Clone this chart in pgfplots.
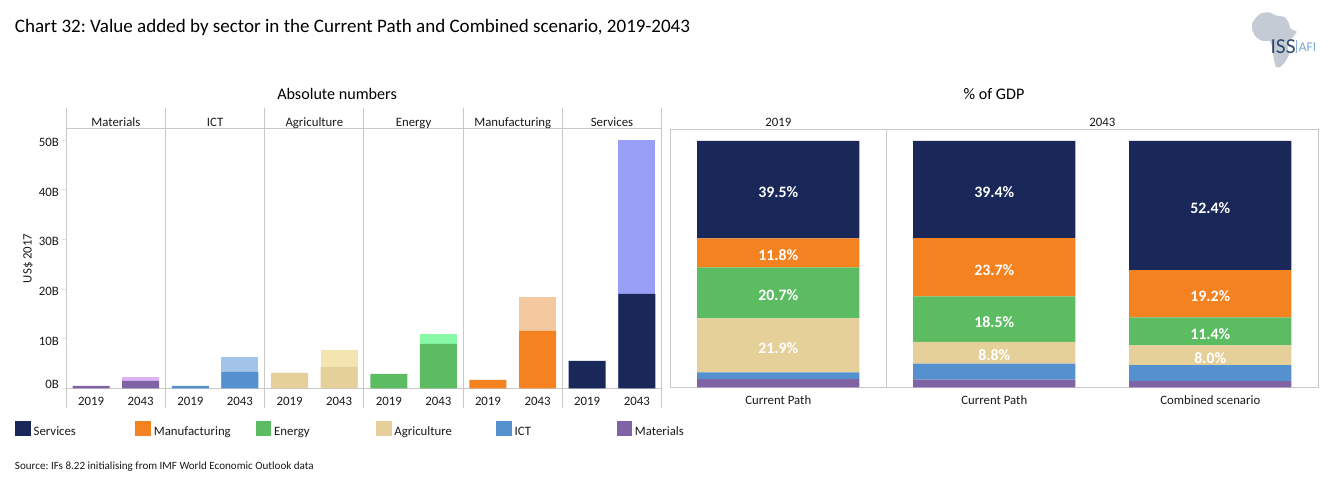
\documentclass[border=0pt]{standalone}
\usepackage{fontspec}
\setmainfont{Carlito}
\usepackage{pgfplots}
\usepackage{pgfplotstable}
\pgfplotsset{compat=1.18}

\definecolor{services}{HTML}{1A2859}
\definecolor{servicesL}{HTML}{989FF7}
\definecolor{manuf}{HTML}{F58220}
\definecolor{manufL}{HTML}{F5C9A0}
\definecolor{energy}{HTML}{5CBC62}
\definecolor{energyL}{HTML}{87F9A6}
\definecolor{agri}{HTML}{E6D09A}
\definecolor{agriL}{HTML}{F4E5B0}
\definecolor{ict}{HTML}{5590CF}
\definecolor{ictL}{HTML}{A2C4E8}
\definecolor{mater}{HTML}{8063A4}
\definecolor{materL}{HTML}{D9B4F0}
\definecolor{rule}{HTML}{C8C8C8}
\definecolor{faint}{HTML}{E6E6E6}
\definecolor{ink}{HTML}{1A1A1A}
\definecolor{logogrey}{HTML}{C4CBD4}
\definecolor{logoblue}{HTML}{2C4A6E}

\pgfplotstableread{
x   materials ict agri energy manuf services
0.5 3.3       2.8 21.9 20.7   11.8  39.5
1.5 3.1       6.5 8.8  18.5   23.7  39.4
2.5 2.5       6.5 8.0  11.4   19.2  52.4
}\shares

\tikzset{head/.style={font=\fontsize{9.6}{11}\selectfont,text=ink,inner sep=0pt,anchor=base}}

\pgfplotsset{
  panel/.style={
    scale only axis,
    axis line style={rule,line width=0.8pt},
    clip=false,
    tick align=outside,
    major tick length=0pt,
    minor tick length=2.6pt,
    every minor tick/.style={faint,line width=0.6pt},
    xticklabel style={font=\fontsize{9.6}{11}\selectfont,text=ink},
    yticklabel style={font=\fontsize{9.6}{11}\selectfont,text=ink},
  },
  sw/.style={
    legend image code/.code={
      \fill[##1] (0pt,-1.6pt) rectangle (11pt,8.7pt);
    },
  },
  seg/.style={ybar stacked,fill=#1,draw=none,forget plot,bar width=121.7pt},
  % stacked bars already put these nodes mid-segment
  lab/.style={
    visualization depends on={\thisrow{#1} \as \rawy},
    nodes near coords={\pgfmathprintnumber[fixed,fixed zerofill,precision=1,assume math mode=true]{\rawy}\%},
    every node near coord/.append style={
      anchor=center,yshift=-2pt,text=white,
      font=\fontsize{11.9}{14}\selectfont\bfseries,
    },
  },
  abs/.style={ybar,fill=#1,draw=none,forget plot,bar width=27.75pt,bar shift=0pt},
}

\begin{document}
\frenchspacing
\begin{tikzpicture}
\path[use as bounding box,fill=white] (0,0) rectangle (997.5pt,364.5pt);

% titles and source
\node[anchor=west,text=black,font=\fontsize{14.28}{17}\selectfont,inner sep=0pt] at (11pt,344pt)
  {Chart 32: Value added by sector in the Current Path and Combined scenario, 2019-2043};
\node[anchor=west,text=ink,font=\fontsize{8.3}{10}\selectfont,inner sep=0pt] at (11pt,14.8pt)
  {Source: IFs 8.22 initialising from IMF World Economic Outlook data};
\node[text=black,font=\fontsize{12.1}{14}\selectfont,inner sep=0pt] at (252.8pt,293.8pt) {Absolute numbers};
\node[text=black,font=\fontsize{12.1}{14}\selectfont,inner sep=0pt] at (745.5pt,293.8pt) {\% of GDP};

% absolute numbers
\begin{axis}[panel,
  name=left,
  at={(49.725pt,73.275pt)},anchor=south west,
  width=446.475pt,height=195pt,
  xmin=0,xmax=12,ymin=0,ymax=52.36,
  axis y line*=left,
  axis x line*=bottom,
  xtick={0.5,1.5,2.5,3.5,4.5,5.5,6.5,7.5,8.5,9.5,10.5,11.5},
  xticklabels={2019,2043,2019,2043,2019,2043,2019,2043,2019,2043,2019,2043},
  xticklabel style={yshift=0.4pt},
  minor xtick={1,3,5,7,9,11},
  ytick={10,20,30,40,50},
  yticklabels={10B,20B,30B,40B,50B},
  yticklabel style={yshift=-1.9pt,xshift=1.5pt},
  major tick length=3.6pt,
  xtick style={draw=none},
  ytick style={faint,line width=0.6pt},
  extra y ticks={0},
  extra y tick labels={0B},
  extra y tick style={yticklabel style={yshift=5pt}},
  ylabel={US\$ 2017},
  ylabel style={font=\fontsize{9.6}{11}\selectfont,text=ink,at={(axis description cs:0,0.5)},anchor=center,yshift=28.5pt},
  legend columns=6,
  legend cell align=left,
  legend style={
    draw=none,fill=none,inner sep=0pt,
    at={(axis cs:0,0)},anchor=north west,
    xshift=-38.5pt,yshift=-24.2pt,
    nodes={inner sep=0pt,text width=76.4pt,text height=6.5pt,text depth=2pt,align=left,font=\fontsize{9.6}{11}\selectfont,text=ink},
    /tikz/every odd column/.style={column sep=2.4pt},
  },
]
% Combined scenario behind, Current Path in front
\addplot[abs=materL] coordinates {(1.5,2.28)};
\addplot[abs=mater] coordinates {(0.5,0.47) (1.5,1.48)};
\addplot[abs=ictL] coordinates {(3.5,6.31)};
\addplot[abs=ict] coordinates {(2.5,0.47) (3.5,3.29)};
\addplot[abs=agriL] coordinates {(5.5,7.72)};
\addplot[abs=agri] coordinates {(4.5,3.09) (5.5,4.30)};
\addplot[abs=energyL] coordinates {(7.5,10.94)};
\addplot[abs=energy] coordinates {(6.5,2.89) (7.5,8.93)};
\addplot[abs=manufL] coordinates {(9.5,18.39)};
\addplot[abs=manuf] coordinates {(8.5,1.68) (9.5,11.55)};
\addplot[abs=servicesL] coordinates {(11.5,50.0)};
\addplot[abs=services] coordinates {(10.5,5.50) (11.5,19.00)};

\addlegendimage{sw,services}\addlegendentry{Services}
\addlegendimage{sw,manuf}\addlegendentry{Manufacturing}
\addlegendimage{sw,energy}\addlegendentry{Energy}
\addlegendimage{sw,agri}\addlegendentry{Agriculture}
\addlegendimage{sw,ict}\addlegendentry{ICT}
\addlegendimage{sw,mater}\addlegendentry{Materials}

% panel frame and headers
\draw[rule,line width=0.8pt] (rel axis cs:0,1) -- (rel axis cs:1,1);
\pgfplotsinvokeforeach{0,2,4,6,8,10,12}{
  \draw[rule,line width=0.8pt] (axis cs:#1,0) ++(0,-15pt) -- (axis cs:#1,52.36) -- ++(0,15pt);
}
\node[head] at (axis cs:1,52.36) [yshift=1.6pt] {Materials};
\node[head] at (axis cs:3,52.36) [yshift=1.6pt] {ICT};
\node[head] at (axis cs:5,52.36) [yshift=1.6pt] {Agriculture};
\node[head] at (axis cs:7,52.36) [yshift=1.6pt] {Energy};
\node[head] at (axis cs:9,52.36) [yshift=1.6pt] {Manufacturing};
\node[head] at (axis cs:11,52.36) [yshift=1.6pt] {Services};
\end{axis}

% percent of GDP
\begin{axis}[panel,
  name=right,
  at={(502.725pt,74.025pt)},anchor=south west,
  width=486pt,height=193.5pt,
  xmin=0,xmax=3,ymin=0,ymax=104.75,
  ybar stacked,
  xtick={0.5,1.5,2.5},
  xticklabels={Current Path,Current Path,Combined scenario},
  xticklabel style={yshift=-2.8pt},
  minor xtick={0,1,2,3},
  ytick=\empty,
  xtick style={draw=none},
]
\addplot[seg=mater] table[x=x,y=materials] {\shares};
\addplot[seg=ict] table[x=x,y=ict] {\shares};
\addplot[seg=agri,lab=agri] table[x=x,y=agri] {\shares};
\addplot[seg=energy,lab=energy] table[x=x,y=energy] {\shares};
\addplot[seg=manuf,lab=manuf] table[x=x,y=manuf] {\shares};
\addplot[seg=services,lab=services] table[x=x,y=services] {\shares};
\draw[rule,line width=0.8pt] (axis cs:1,0) -- (axis cs:1,104.75);
\node[head] at (axis cs:0.5,104.75) [yshift=2.2pt] {2019};
\node[head] at (axis cs:2,104.75) [yshift=2.2pt] {2043};
\end{axis}

% logo
\begin{scope}[shift={(933.75pt,358.5pt)},x=0.25pt,y=-0.25pt]
\fill[logogrey] plot[smooth cycle,tension=0.35] coordinates {
  (48,16) (72,13) (92,22) (118,27) (130,42) (137,62) (155,71) (143,88) (128,103)
  (129,124) (132,140) (118,165) (104,178) (92,176) (86,150) (81,118) (76,100)
  (50,98) (32,86) (22,66) (22,45) (34,28)};
\node[anchor=west,text=logoblue,font=\fontsize{16}{18}\selectfont,inner sep=0pt] at (76,116) {ISS};
\fill[ict!70!white] (153,96) rectangle (154.5,136);
\node[anchor=west,text=ict!80!white,font=\fontsize{10}{12}\selectfont,inner sep=0pt] at (161,118) {AFI};
\end{scope}
\end{tikzpicture}
\end{document}
